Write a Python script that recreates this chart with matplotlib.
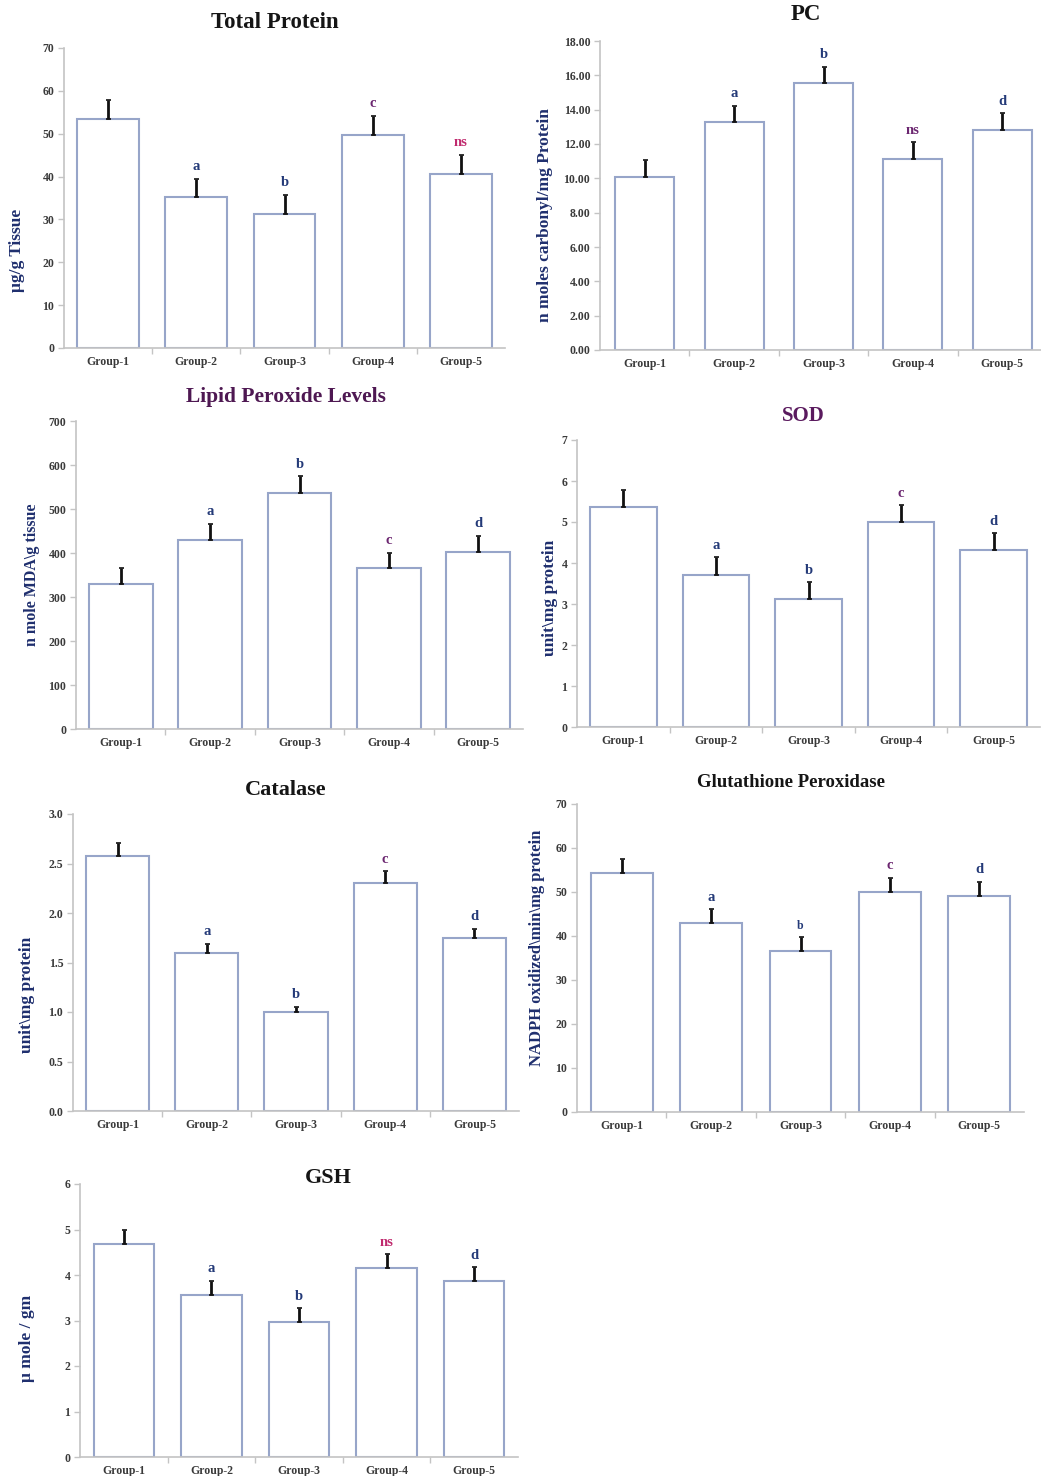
import matplotlib

matplotlib.use("agg")
import matplotlib.pyplot as plt
import numpy as np
from matplotlib.ticker import FormatStrFormatter

W, H = 1041, 1476

groups = ["Group-1", "Group-2", "Group-3", "Group-4", "Group-5"]

# values (mean, upper error)
total_protein = [53.5, 35.2, 31.3, 49.8, 40.7]
total_protein_err = [4.4, 4.3, 4.4, 4.4, 4.4]
total_protein_sig = ["", "a", "b", "c", "ns"]

pc = [10.07, 13.27, 15.56, 11.14, 12.82]
pc_err = [0.97, 0.97, 0.95, 0.96, 0.96]
pc_sig = ["", "a", "b", "ns", "d"]

lipid = [329, 429, 537, 365, 403]
lipid_err = [37, 37, 37, 36, 36]
lipid_sig = ["", "a", "b", "c", "d"]

sod = [5.36, 3.70, 3.11, 4.99, 4.31]
sod_err = [0.43, 0.44, 0.42, 0.42, 0.42]
sod_sig = ["", "a", "b", "c", "d"]

catalase = [2.58, 1.60, 1.00, 2.30, 1.75]
catalase_err = [0.13, 0.09, 0.05, 0.12, 0.09]
catalase_sig = ["", "a", "b", "c", "d"]

gpx = [54.3, 43.0, 36.6, 50.1, 49.2]
gpx_err = [3.2, 3.1, 3.1, 3.1, 3.1]
gpx_sig = ["", "a", "b", "c", "d"]

gsh = [4.68, 3.57, 2.96, 4.16, 3.87]
gsh_err = [0.30, 0.30, 0.31, 0.30, 0.30]
gsh_sig = ["", "a", "b", "ns", "d"]

NAVY = "#243a78"
PURPLE = "#6b2670"
MAGENTA = "#c02a6e"
SIG_COLORS = {"a": NAVY, "b": NAVY, "d": NAVY, "c": PURPLE, "ns": MAGENTA}
EDGE = "#97a5c9"
SPINE = "#c4c4c4"
TICK_TXT = "#3a3a3a"
YLAB = "#1f2f6e"

plt.rcParams["font.family"] = ["Liberation Serif", "DejaVu Serif"]
plt.rcParams["font.weight"] = "bold"

fig = plt.figure(figsize=(W / 100, H / 100), dpi=100)


def px_axes(left, top, right, bottom):
    return fig.add_axes([left / W, 1 - bottom / H, (right - left) / W, (bottom - top) / H])


def fig_text(x, y, s, **kw):
    fig.text(x / W, 1 - y / H, s, ha="center", va="center", fontweight="bold", **kw)


def draw_panel(box, vals, errs, sig, ymax, step, fmt, width, sig_sizes=None, colors=None):
    ax = px_axes(*box)
    x = np.arange(len(groups))
    ax.bar(x, vals, width=width, color="white", edgecolor=EDGE, linewidth=1.5, zorder=2)
    ax.errorbar(x, vals, yerr=[np.zeros(len(vals)), errs], fmt="none", ecolor="#111111",
                elinewidth=2.0, capsize=1.8, capthick=1.2, zorder=3)
    colors = dict(SIG_COLORS, **(colors or {}))
    for i, (v, e, s) in enumerate(zip(vals, errs, sig)):
        if not s:
            continue
        size = sig_sizes[i] if sig_sizes else 10.5
        ax.annotate(s, (i, v + e), xytext=(0, 4), textcoords="offset points",
                    ha="center", va="bottom", fontsize=size, fontweight="bold",
                    color=colors[s], zorder=4)
    ax.set_xlim(-0.5, len(groups) - 0.5)
    ax.set_ylim(0, ymax)
    ax.set_yticks(np.arange(0, ymax + step / 2, step))
    ax.yaxis.set_major_formatter(FormatStrFormatter(fmt))
    ax.set_xticks(x)
    ax.set_xticklabels(groups)
    ax.set_xticks(np.arange(0.5, len(groups) - 1, 1.0), minor=True)
    ax.tick_params(axis="x", which="major", length=0, pad=6, labelsize=8.5, labelcolor=TICK_TXT)
    ax.tick_params(axis="x", which="minor", length=4, color=SPINE, width=1)
    ax.tick_params(axis="y", length=4, color=SPINE, width=1, pad=3, labelsize=8.5,
                   labelcolor=TICK_TXT)
    for lbl in ax.get_xticklabels() + ax.get_yticklabels():
        lbl.set_fontweight("bold")
    for side in ("top", "right"):
        ax.spines[side].set_visible(False)
    for side in ("left", "bottom"):
        ax.spines[side].set_color(SPINE)
        ax.spines[side].set_linewidth(1.2)
    ax.patch.set_alpha(0)
    return ax


# Total Protein
draw_panel((64, 48, 505, 348), total_protein, total_protein_err, total_protein_sig,
           70, 10, "%d", 0.70)
fig_text(275, 22, "Total Protein", fontsize=16.5, color="#151515")
fig_text(17, 250, "μg/g Tissue", fontsize=12.5, color=YLAB, rotation=90)

# PC
draw_panel((600, 41, 1047, 350), pc, pc_err, pc_sig, 18, 2, "%.2f", 0.66,
           colors={"ns": PURPLE})
fig_text(806, 15, "PC", fontsize=16.5, color="#151515")
fig_text(545, 215, "n moles carbonyl/mg Protein", fontsize=12.5, color=YLAB, rotation=90)

# Lipid peroxide
draw_panel((76, 421, 523, 729), lipid, lipid_err, lipid_sig, 700, 100, "%d", 0.715)
fig_text(286, 397, "Lipid Peroxide Levels", fontsize=15.5, color="#4e1852")
fig_text(32, 575, "n mole MDA\\g tissue", fontsize=11.5, color=YLAB, rotation=90)

# SOD
draw_panel((577, 440, 1040, 727), sod, sod_err, sod_sig, 7, 1, "%d", 0.72)
fig_text(803, 416, "SOD", fontsize=15, color="#5a1a5e")
fig_text(550, 598, "unit\\mg protein", fontsize=12.5, color=YLAB, rotation=90)

# Catalase
draw_panel((73, 814, 519, 1111), catalase, catalase_err, catalase_sig, 3.0, 0.5, "%.1f", 0.71)
fig_text(286, 790, "Catalase", fontsize=16, color="#151515")
fig_text(27, 995, "unit\\mg protein", fontsize=12.5, color=YLAB, rotation=90)

# Glutathione peroxidase
draw_panel((577, 804, 1024, 1112), gpx, gpx_err, gpx_sig, 70, 10, "%d", 0.69,
           sig_sizes=[10.5, 10.5, 8.5, 10.5, 10.5])
fig_text(791, 782, "Glutathione Peroxidase", fontsize=13.5, color="#151515")
fig_text(537, 948, "NADPH oxidized\\min\\mg protein", fontsize=12, color=YLAB, rotation=90)

# GSH
draw_panel((80, 1184, 518, 1457), gsh, gsh_err, gsh_sig, 6, 1, "%d", 0.69)
fig_text(328, 1178, "GSH", fontsize=16, color="#151515")
fig_text(27, 1338, "μ mole / gm", fontsize=12.5, color=YLAB, rotation=90)

fig.savefig("out.png", dpi=100, facecolor="white")
